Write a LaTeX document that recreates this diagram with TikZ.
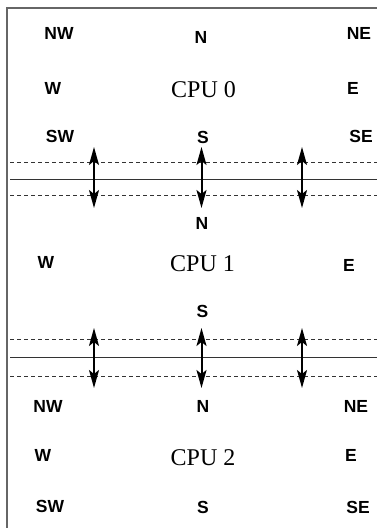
\documentclass[tikz,border=0pt]{standalone}
\usepackage{fontspec}
\setmainfont{Liberation Serif}
\newfontfamily\labfont{Liberation Sans}
\usetikzlibrary{arrows.meta}
\begin{document}
\begin{tikzpicture}[x=1bp,y=-1bp,
  lab/.style={inner sep=0pt,font=\labfont\bfseries\fontsize{17.5bp}{19bp}\selectfont},
  cpu/.style={inner sep=0pt,font=\fontsize{24bp}{26bp}\selectfont},
  sepline/.style={draw=black!80,line width=1bp},
  sepdash/.style={draw=black!80,line width=1bp,dash pattern=on 4bp off 3bp},
  link/.style={line width=2bp,{Stealth[length=18bp,width=10bp,inset=4bp]}-{Stealth[length=18bp,width=10bp,inset=4bp]}},
  frame/.style={draw=black!60,line width=1.3bp}]
\useasboundingbox (0,0) rectangle (377,528);
\fill[white] (0,0) rectangle (377,528);
% frame
\coordinate (fb) at (7,528);
\coordinate (fc) at (7,8);
\coordinate (fr) at (377,8);
\draw[frame] (fb) -- (fc) -- (fr);
% CPU 0
\node[lab] (nw0) at (59,33) {NW};
\node[lab] (n0) at (201,37) {N};
\node[lab] (ne0) at (359,33) {NE};
\node[lab] (w0) at (53,88) {W};
\node[cpu] (cpu0) at (203.5,89.5) {CPU 0};
\node[lab] (e0) at (353,88) {E};
\node[lab] (sw0) at (60,136) {SW};
\node[lab] (s0) at (203,137) {S};
\node[lab] (se0) at (361,136) {SE};
% CPU 1
\node[lab] (n1) at (202,223) {N};
\node[lab] (w1) at (46,262) {W};
\node[cpu] (cpu1) at (202.5,263.5) {CPU 1};
\node[lab] (e1) at (349,265) {E};
\node[lab] (s1) at (202.5,311) {S};
% CPU 2
\node[lab] (nw2) at (48,406) {NW};
\node[lab] (n2) at (203,406) {N};
\node[lab] (ne2) at (356,406) {NE};
\node[lab] (w2) at (43,455) {W};
\node[cpu] (cpu2) at (203,458) {CPU 2};
\node[lab] (e2) at (351,455) {E};
\node[lab] (sw2) at (50,506) {SW};
\node[lab] (s2) at (203,507) {S};
\node[lab] (se2) at (358,507) {SE};
% separator 1
\coordinate (d1al) at (10,163); \coordinate (d1ar) at (377,163);
\coordinate (l1l) at (10,179.5); \coordinate (l1r) at (377,179.5);
\coordinate (d1bl) at (10,196); \coordinate (d1br) at (377,196);
\draw[sepdash] (d1al) -- (d1ar);
\draw[sepline] (l1l) -- (l1r);
\draw[sepdash] (d1bl) -- (d1br);
\coordinate (a1t) at (94,147); \coordinate (a1b) at (94,208);
\coordinate (b1t) at (201.5,147); \coordinate (b1b) at (201.5,208);
\coordinate (c1t) at (302,147); \coordinate (c1b) at (302,208);
\draw[link] (a1t) -- (a1b);
\draw[link] (b1t) -- (b1b);
\draw[link] (c1t) -- (c1b);
% separator 2
\coordinate (d2al) at (10,339); \coordinate (d2ar) at (377,339);
\coordinate (l2l) at (10,357); \coordinate (l2r) at (377,357);
\coordinate (d2bl) at (10,376); \coordinate (d2br) at (377,376);
\draw[sepdash] (d2al) -- (d2ar);
\draw[sepline] (l2l) -- (l2r);
\draw[sepdash] (d2bl) -- (d2br);
\coordinate (a2t) at (94,328); \coordinate (a2b) at (94,388);
\coordinate (b2t) at (201.5,328); \coordinate (b2b) at (201.5,388);
\coordinate (c2t) at (302,328); \coordinate (c2b) at (302,388);
\draw[link] (a2t) -- (a2b);
\draw[link] (b2t) -- (b2b);
\draw[link] (c2t) -- (c2b);
\end{tikzpicture}
\end{document}
